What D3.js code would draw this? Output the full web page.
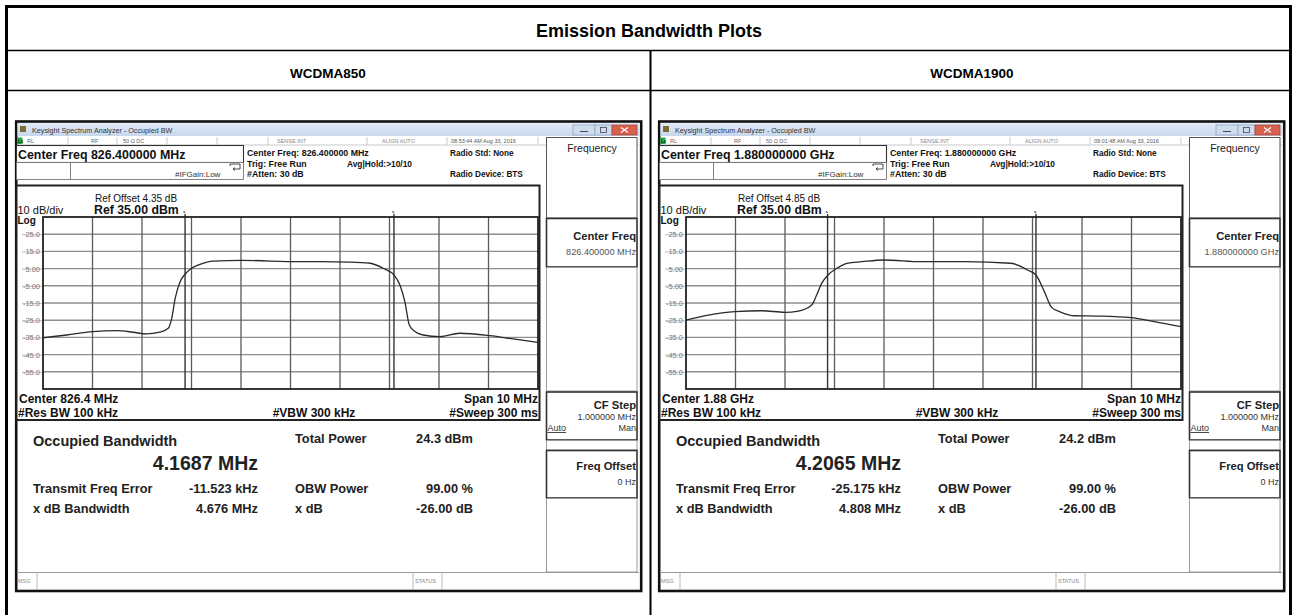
<!DOCTYPE html>
<html><head><meta charset="utf-8">
<script src="https://cdn.jsdelivr.net/npm/d3@7"></script>
<style>
html,body{margin:0;padding:0;background:#fff;}
svg{display:block;font-family:"Liberation Sans",Arial,sans-serif;}
</style></head><body>
<svg id="c" width="1293" height="615"></svg>
<script>
// ---------- data ----------
const tableTitle = "Emission Bandwidth Plots";
const bands = ["WCDMA850", "WCDMA1900"];
const centerFreqText = ["826.400000 MHz", "1.880000000 GHz"];
const centerShort = ["826.4 MHz", "1.88 GHz"];
const refOffset = ["4.35 dB", "4.85 dB"];
const timestamps = ["08:53:44 AM Aug 33, 2016", "09:01:48 AM Aug 33, 2016"];
const occBW = ["4.1687 MHz", "4.2065 MHz"];
const freqError = ["-11.523 kHz", "-25.175 kHz"];
const xdbBW = ["4.676 MHz", "4.808 MHz"];
const totalPower = ["24.3 dBm", "24.2 dBm"];
const obwPower = ["99.00 %", "99.00 %"];
const xdbValue = ["-26.00 dB", "-26.00 dB"];
const obwEdges = [[-2.13, 2.09], [-2.14, 2.07]];           // MHz offset of OBW markers

const yTickValues = [25, 15, 5, -5, -15, -25, -35, -45, -55];
const yTickLabels = ["25.0", "15.0", "5.00", "-5.00", "-15.0", "-25.0", "-35.0", "-45.0", "-55.0"];
const xGridValues = [-4, -3, -2, -1, 0, 1, 2, 3, 4];

// trace: frequency offset from centre (MHz) / level (dBm)
const freq850 = [-5, -4.52, -4.0, -3.51, -3.18, -2.91, -2.64, -2.47, -2.40, -2.33, -2.23, -2.13, -2.0, -1.83, -1.56, -0.99, 0.19, 0.60, 1.20, 1.61, 1.87, 2.09, 2.21, 2.31, 2.40, 2.52, 2.68, 3.02, 3.42, 4.03, 4.50, 5.0];
const level850 = [-35.2, -33.6, -31.7, -31.1, -32.0, -33.0, -32.0, -29.7, -23.9, -12.3, -2.6, 1.7, 5.2, 7.5, 9.4, 9.8, 9.0, 9.0, 8.8, 8.1, 5.2, 1.3, -4.5, -14.2, -27.8, -31.7, -33.6, -34.6, -32.6, -34.0, -35.9, -37.9];
const freq1900 = [-5, -4.55, -4.01, -3.47, -3.0, -2.73, -2.46, -2.36, -2.26, -2.13, -1.95, -1.75, -1.45, -1.0, -0.25, 0.62, 1.56, 1.90, 2.07, 2.24, 2.39, 2.58, 2.85, 3.32, 3.99, 4.46, 5.0];
const level1900 = [-24.9, -22.0, -20.0, -19.5, -20.4, -19.7, -16.2, -10.3, -3.6, 1.3, 5.2, 8.1, 9.0, 10.0, 9.0, 9.0, 8.1, 4.2, 1.3, -8.4, -17.7, -20.4, -22.4, -22.6, -23.5, -25.8, -28.8];
const traces = [d3.zip(freq850, level850), d3.zip(freq1900, level1900)];

// ---------- table ----------
const svg = d3.select("#c");
svg.append("rect").attr("width", 1293).attr("height", 615).attr("fill", "#fff");

const defs = svg.append("defs");
const grad = defs.append("linearGradient").attr("id", "tb").attr("x1", 0).attr("y1", 0).attr("x2", 0).attr("y2", 1);
grad.append("stop").attr("offset", "0%").attr("stop-color", "#e2ebf7");
grad.append("stop").attr("offset", "100%").attr("stop-color", "#c7d7ec");

const T = svg.append("g");
const hl = (x1, x2, y, w) => T.append("line").attr("x1", x1).attr("x2", x2).attr("y1", y).attr("y2", y).attr("stroke", "#000").attr("stroke-width", w);
const vl = (x, y1, y2, w) => T.append("line").attr("x1", x).attr("x2", x).attr("y1", y1).attr("y2", y2).attr("stroke", "#000").attr("stroke-width", w);
hl(5, 1292, 6.5, 3);
hl(5, 1292, 50.5, 1.6);
hl(5, 1292, 90.5, 1.6);
vl(6.5, 5, 615, 3);
vl(1290.5, 5, 615, 3);
vl(650.5, 50, 615, 2);

T.append("text").attr("x", 649).attr("y", 37).attr("text-anchor", "middle")
  .attr("font-size", 18).attr("font-weight", "bold").text(tableTitle);
[328, 972].forEach((cx, i) => T.append("text").attr("x", cx).attr("y", 78).attr("text-anchor", "middle")
  .attr("font-size", 13.5).attr("font-weight", "bold").text(bands[i]));

// ---------- analyzer screenshots ----------
function txt(g, x, y, s, size, opt = {}) {
  return g.append("text").attr("x", x).attr("y", y).attr("font-size", size)
    .attr("font-weight", opt.bold ? "bold" : "normal")
    .attr("fill", opt.fill || "#111")
    .attr("text-anchor", opt.anchor || "start").text(s);
}
function box(g, x, y, w, h, stroke, sw, fill) {
  return g.append("rect").attr("x", x).attr("y", y).attr("width", w).attr("height", h)
    .attr("fill", fill || "#fff").attr("stroke", stroke).attr("stroke-width", sw);
}

function analyzer(i, x0, y0) {
  const g = svg.append("g").attr("transform", `translate(${x0},${y0})`);
  // frame
  box(g, 1.2, 1.5, 625, 469.5, "#111", 2.6, "#fff");
  // title bar
  g.append("rect").attr("x", 2.5).attr("y", 3).attr("width", 622).attr("height", 13).attr("fill", "url(#tb)");
  g.append("rect").attr("x", 5).attr("y", 6).attr("width", 6).attr("height", 6).attr("fill", "#7d6d34");
  txt(g, 17, 12.5, "Keysight Spectrum Analyzer - Occupied BW", 7.2, {fill: "#333"});
  box(g, 558, 5, 22, 10, "#8ea5c3", 0.8, "#cfdcee");
  box(g, 580, 5, 17, 10, "#8ea5c3", 0.8, "#cfdcee");
  box(g, 597, 5, 25, 10, "#a8443a", 0.8, "#d8604f");
  g.append("line").attr("x1", 565).attr("x2", 573).attr("y1", 11.5).attr("y2", 11.5).attr("stroke", "#445").attr("stroke-width", 1);
  box(g, 585.5, 7.5, 6, 5, "#445", 0.8, "none");
  g.append("path").attr("d", "M606,7.5 L613,12.5 M613,7.5 L606,12.5").attr("stroke", "#fff").attr("stroke-width", 1.2);

  // status row
  g.append("line").attr("x1", 2).attr("x2", 624).attr("y1", 25).attr("y2", 25).attr("stroke", "#bbb").attr("stroke-width", 0.8);
  g.append("rect").attr("x", 2.5).attr("y", 17.5).attr("width", 5).attr("height", 6.5).attr("fill", "#1fae3c");
  txt(g, 3, 23, "Lx", 5, {fill: "#000"});
  [53, 102, 152, 202, 253, 352, 432, 523].forEach(sx =>
    g.append("line").attr("x1", sx).attr("x2", sx).attr("y1", 17).attr("y2", 25).attr("stroke", "#bbb").attr("stroke-width", 0.8));
  txt(g, 12, 23, "RL", 5.5, {fill: "#666"});
  txt(g, 76, 23, "RF", 5.5, {fill: "#666"});
  txt(g, 108, 23, "50 \u03A9   DC", 5.5, {fill: "#666"});
  txt(g, 262, 23, "SENSE:INT", 5.5, {fill: "#888"});
  txt(g, 367, 23, "ALIGN AUTO", 5.5, {fill: "#888"});
  txt(g, 436, 23, timestamps[i], 5.5, {fill: "#555"});

  // centre freq boxes
  box(g, 1.5, 25.5, 227, 17, "#333", 1.1);
  txt(g, 3, 38.5, "Center Freq " + centerFreqText[i], 12.4, {bold: true, fill: "#111"});
  box(g, 1.5, 42.5, 54, 17, "#777", 0.9);
  box(g, 55.5, 42.5, 173, 17, "#777", 0.9);
  txt(g, 160, 56.5, "#IFGain:Low", 8, {fill: "#333"});
  g.append("path").attr("d", "M215,46 L215,44 L225,44 L225,49 L218,49 M220,47.5 L218,49 L220,50.5")
    .attr("fill", "none").attr("stroke", "#333").attr("stroke-width", 0.9);
  txt(g, 232, 36, "Center Freq: " + centerFreqText[i], 8.8, {bold: true});
  txt(g, 232, 47, "Trig: Free Run", 8.8, {bold: true});
  txt(g, 232, 56.5, "#Atten: 30 dB", 8.8, {bold: true});
  txt(g, 397, 47, "Avg|Hold:>10/10", 8.4, {bold: true, anchor: "end"});
  txt(g, 435, 36, "Radio Std: None", 8.2, {bold: true});
  txt(g, 435, 56.5, "Radio Device: BTS", 8.2, {bold: true});

  // right soft-key panel
  box(g, 531.5, 17.5, 90.5, 80.5, "#555", 1);
  txt(g, 577, 31.5, "Frequency", 10.5, {anchor: "middle", fill: "#222"});
  box(g, 531.5, 98.5, 90.5, 48.5, "#333", 1.6);
  txt(g, 621, 120, "Center Freq", 11.2, {bold: true, anchor: "end", fill: "#222"});
  txt(g, 621, 134.5, centerFreqText[i], 9.2, {anchor: "end", fill: "#555"});
  box(g, 531.5, 147.5, 90.5, 123.5, "#999", 1);
  box(g, 531.5, 272, 90.5, 48, "#333", 1.6);
  txt(g, 621, 289, "CF Step", 11.2, {bold: true, anchor: "end", fill: "#222"});
  txt(g, 621, 300, "1.000000 MHz", 9, {anchor: "end", fill: "#333"});
  txt(g, 532.5, 311, "Auto", 9, {fill: "#333"}).attr("text-decoration", "underline");
  txt(g, 621, 311, "Man", 9, {anchor: "end", fill: "#333"});
  box(g, 531.5, 320.5, 90.5, 9.5, "#999", 1);
  box(g, 531.5, 330.5, 90.5, 47.5, "#333", 1.6);
  txt(g, 621, 350, "Freq Offset", 11.2, {bold: true, anchor: "end", fill: "#222"});
  txt(g, 621, 365, "0 Hz", 9, {anchor: "end", fill: "#333"});
  box(g, 531.5, 378.5, 90.5, 73.5, "#999", 1);

  // plot box
  box(g, 1.5, 65.5, 523, 234.5, "#222", 2);
  txt(g, 80, 82, "Ref Offset " + refOffset[i], 10, {});
  txt(g, 79, 93.5, "Ref 35.00 dBm", 12.3, {bold: true});
  txt(g, 2.5, 93.5, "10 dB/div", 11, {});
  txt(g, 2.5, 104, "Log", 10, {bold: true});

  const x = d3.scaleLinear().domain([-5, 5]).range([28, 523]);
  const y = d3.scaleLinear().domain([-65, 35]).range([269, 97]);

  const grid = g.append("g");
  grid.selectAll(".hg").data(yTickValues).join("line")
    .attr("x1", x(-5)).attr("x2", x(5)).attr("y1", d => y(d)).attr("y2", d => y(d))
    .attr("stroke", "#8e8e8e").attr("stroke-width", 1.4);
  grid.selectAll(".vg").data(xGridValues).join("line")
    .attr("x1", d => x(d)).attr("x2", d => x(d)).attr("y1", y(35)).attr("y2", y(-65))
    .attr("stroke", "#5a5a5a").attr("stroke-width", 1.3);

  const ax = g.append("g").attr("transform", `translate(${x(-5)},0)`)
    .call(d3.axisLeft(y).tickValues(yTickValues).tickFormat((d, k) => yTickLabels[k])
      .tickSizeInner(21).tickSizeOuter(0).tickPadding(-18));
  ax.select(".domain").remove();
  ax.selectAll("line").attr("stroke", "#c4c4c4").attr("stroke-width", 1.2);
  ax.selectAll("text").attr("fill", "#777").attr("font-size", 7.5)
    .attr("font-family", "'Liberation Sans',Arial,sans-serif");

  // OBW markers
  g.selectAll(".mk").data(obwEdges[i]).join("line")
    .attr("x1", d => x(d)).attr("x2", d => x(d)).attr("y1", y(35) - 3).attr("y2", y(-65))
    .attr("stroke", "#333").attr("stroke-width", 1.4);
  g.selectAll(".mh").data(obwEdges[i]).join("path")
    .attr("d", d => `M${x(d) - 2},${y(35) - 5} q2,-1 2,1`)
    .attr("fill", "none").attr("stroke", "#333").attr("stroke-width", 0.9);

  g.append("rect").attr("x", x(-5)).attr("y", y(35)).attr("width", x(5) - x(-5)).attr("height", y(-65) - y(35))
    .attr("fill", "none").attr("stroke", "#222").attr("stroke-width", 1.8);

  // trace
  g.append("path").datum(traces[i])
    .attr("d", d3.line().x(d => x(d[0])).y(d => y(d[1])).curve(d3.curveMonotoneX))
    .attr("fill", "none").attr("stroke", "#2a2a2a").attr("stroke-width", 1.3);

  txt(g, 4, 283, "Center  " + centerShort[i], 12, {bold: true});
  txt(g, 3, 297, "#Res BW  100 kHz", 12, {bold: true});
  txt(g, 299, 297, "#VBW  300 kHz", 12, {bold: true, anchor: "middle"});
  txt(g, 523, 283, "Span 10 MHz", 12, {bold: true, anchor: "end"});
  txt(g, 523, 297, "#Sweep  300 ms", 12, {bold: true, anchor: "end"});

  // measurement results
  txt(g, 18, 326, "Occupied Bandwidth", 14.5, {bold: true, fill: "#222"});
  txt(g, 243, 349.5, occBW[i], 19.5, {bold: true, anchor: "end", fill: "#222"});
  txt(g, 18, 372.5, "Transmit Freq Error", 12.8, {bold: true, fill: "#222"});
  txt(g, 243, 372.5, freqError[i], 12.8, {bold: true, anchor: "end", fill: "#222"});
  txt(g, 18, 392.5, "x dB Bandwidth", 12.8, {bold: true, fill: "#222"});
  txt(g, 243, 392.5, xdbBW[i], 12.8, {bold: true, anchor: "end", fill: "#222"});
  txt(g, 280, 323, "Total Power", 12.8, {bold: true, fill: "#222"});
  txt(g, 458, 323, totalPower[i], 12.8, {bold: true, anchor: "end", fill: "#222"});
  txt(g, 280, 372.5, "OBW Power", 12.8, {bold: true, fill: "#222"});
  txt(g, 458, 372.5, obwPower[i], 12.8, {bold: true, anchor: "end", fill: "#222"});
  txt(g, 280, 392.5, "x dB", 12.8, {bold: true, fill: "#222"});
  txt(g, 458, 392.5, xdbValue[i], 12.8, {bold: true, anchor: "end", fill: "#222"});

  // message bar
  g.append("line").attr("x1", 2).attr("x2", 624).attr("y1", 452.5).attr("y2", 452.5).attr("stroke", "#999").attr("stroke-width", 1);
  [22, 398, 427].forEach(sx =>
    g.append("line").attr("x1", sx).attr("x2", sx).attr("y1", 452.5).attr("y2", 469).attr("stroke", "#aaa").attr("stroke-width", 0.8));
  txt(g, 3, 463, "MSG", 5.5, {fill: "#888"});
  txt(g, 400, 463, "STATUS", 5.5, {fill: "#888"});
}

analyzer(0, 15, 120);
analyzer(1, 658, 120);
</script>
</body></html>
